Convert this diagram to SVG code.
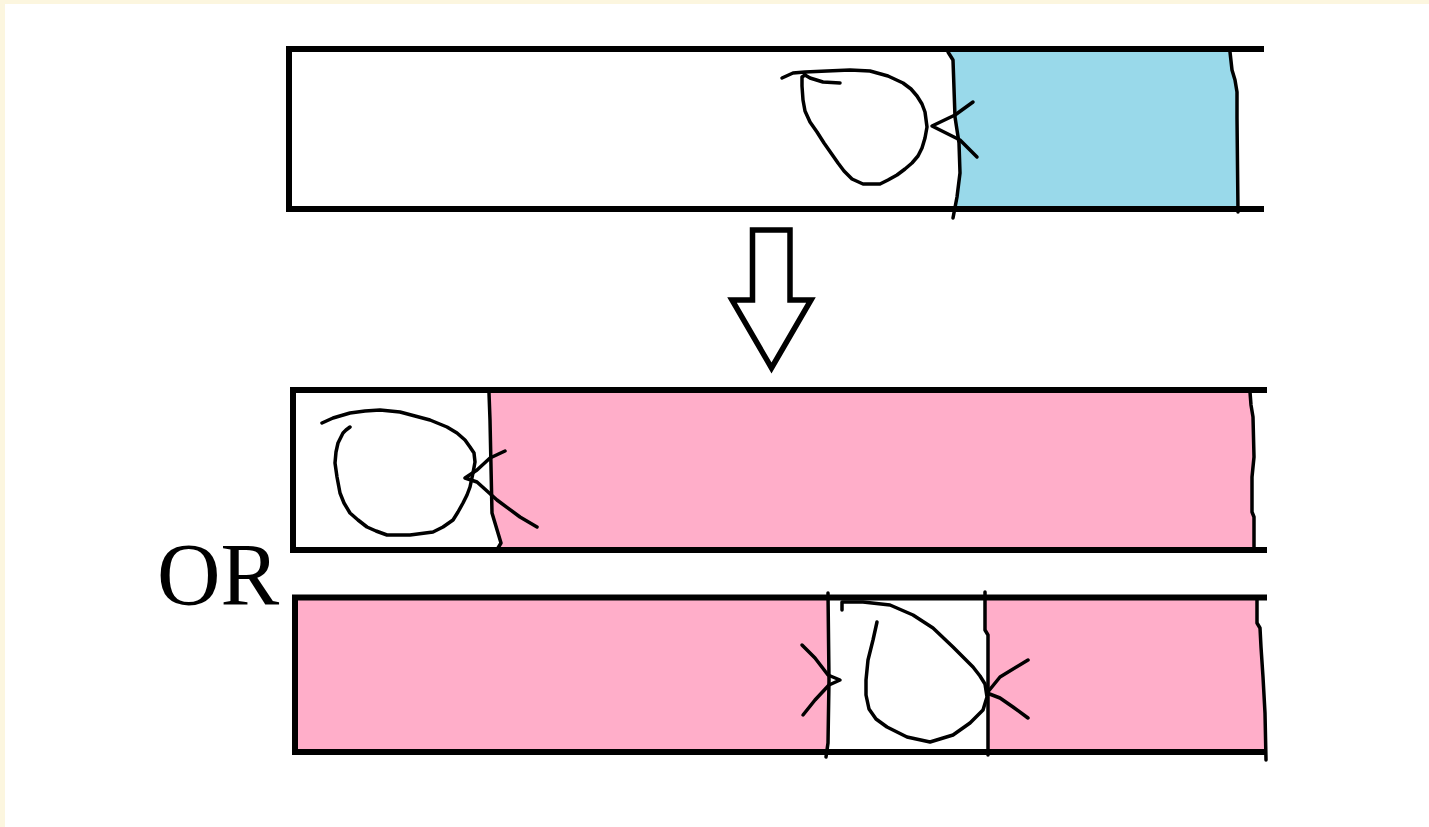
<svg xmlns="http://www.w3.org/2000/svg" width="1429" height="827" viewBox="0 0 1429 827">
  <style>
    .frame { fill: none; stroke: #000; stroke-width: 6; stroke-linejoin: miter; }
    .ink { fill: none; stroke: #000; stroke-width: 3.5; stroke-linejoin: round; stroke-linecap: round; }
    .blue { fill: #99d9ea; }
    .pink { fill: #ffaec9; }
    .label { font-family: "Liberation Serif", "Times New Roman", serif; font-size: 88px; fill: #000; }
    .arrow { fill: #fff; stroke: #000; stroke-width: 5.5; stroke-linejoin: miter; }
  </style>

  <!-- page background with cream margin on top and left -->
  <rect x="0" y="0" width="1429" height="827" fill="#fcf6df"/>
  <rect x="5" y="4" width="1424" height="823" fill="#fff"/>

  <!-- tube before -->
  <g id="tube-before">
    <polygon class="blue" points="949,49 953,60 955,117 959,143 960,173 957,197 955,209 1238,209 1238,118 1237,92 1235,80 1232,70 1230,49"/>
    <path class="frame" d="M1264,49 H289 V209 H1264"/>
    <path class="ink" d="M948,52 L953,60 L955,117 L959,143 L960,173 L957,197 L953,218"/>
    <path class="ink" d="M1230,52 L1232,70 L1235,80 L1237,92 L1237,118 L1238,212"/>
    <path class="ink" d="M782,78 L793,73 L805,72 L827,71 L850,70 L870,71 L888,76 L903,83 L911,89 L917,96 L922,104 L925,112 L927,127 L925,138 L922,148 L918,156 L912,163 L905,169 L897,175 L888,180 L880,184 L863,184 L852,179 L844,171 L838,163 L831,153 L824,143 L817,132 L810,122 L805,111 L803,100 L802,86 L802,77 L805,75 L810,78 L823,82 L840,83"/>
    <path class="ink" d="M973,102 L955,115 L932,126 L960,140 L977,157"/>
  </g>

  <!-- tube after, first outcome -->
  <g id="tube-after-a">
    <polygon class="pink" points="489,390 490,420 492,513 498,533 501,543 498,550 1254,550 1254,517 1252,512 1252,477 1254,457 1253,417 1251,405 1250,390"/>
    <path class="frame" d="M1267,390 H293 V550 H1267"/>
    <path class="ink" d="M489,393 L490,420 L492,513 L498,533 L501,543 L498,548"/>
    <path class="ink" d="M1250,392 L1251,405 L1253,417 L1254,457 L1252,477 L1252,512 L1254,517 L1254,549"/>
    <path class="ink" d="M322,423 L333,418 L350,413 L365,411 L380,410 L400,412 L415,416 L430,420 L447,427 L457,433 L465,440 L470,447 L474,453 L475,462 L473,473 L470,487 L467,495 L463,503 L458,512 L453,520 L443,527 L433,532 L410,535 L387,535 L376,531 L367,527 L358,520 L350,513 L344,503 L340,493 L337,477 L335,463 L336,452 L338,443 L343,433 L346,430 L350,427"/>
    <path class="ink" d="M505,451 L490,458 L477,470 L465,478 L477,482 L497,500 L520,517 L537,527"/>
  </g>

  <!-- tube after, second outcome -->
  <g id="tube-after-b">
    <polygon class="pink" points="295,597 828,597 829,680 828,752 295,752"/>
    <polygon class="pink" points="985,597 985,630 988,635 988,752 1266,752 1265,713 1263,677 1261,647 1260,628 1257,623 1257,597"/>
    <path class="frame" d="M1267,597.5 H295 V752 H1267"/>
    <path class="ink" d="M828,593 L829,680 L828,743 L826,757"/>
    <path class="ink" d="M985,592 L985,630 L988,635 L988,755"/>
    <path class="ink" d="M1257,600 L1257,623 L1260,628 L1261,647 L1263,677 L1265,713 L1266,760"/>
    <path class="ink" d="M842,610 L842,602 L863,602 L890,605 L913,615 L933,628 L953,647 L965,659 L973,667 L980,676 L985,684 L987,697 L983,710 L970,723 L953,735 L930,742 L907,737 L887,727 L876,719 L869,709 L866,695 L866,680 L868,660 L873,640 L877,622"/>
    <path class="ink" d="M802,645 L815,658 L828,675 L840,680 L829,685 L815,700 L803,715"/>
    <path class="ink" d="M1028,660 L1000,677 L987,693 L1000,698 L1013,707 L1028,718"/>
  </g>

  <!-- alternative label -->
  <g id="label-or">
    <text class="label" x="157" y="604">OR</text>
  </g>

  <!-- transition arrow -->
  <g id="connectors">
    <path class="arrow" d="M752.5,230 H790 V300 H811 L771.5,368 L732,300 H752.5 Z"/>
  </g>
</svg>
